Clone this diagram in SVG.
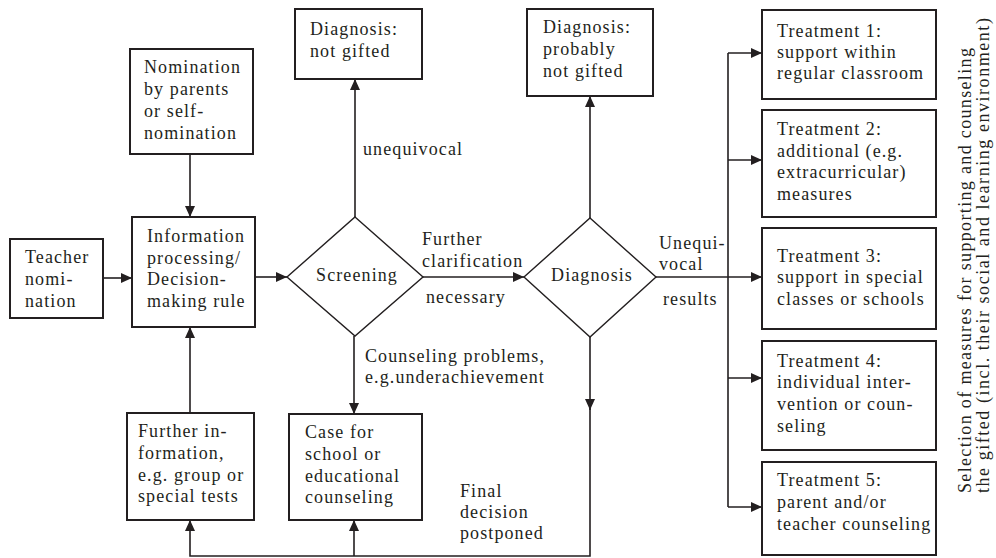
<svg xmlns="http://www.w3.org/2000/svg" width="996" height="558" viewBox="0 0 996 558">
<style>
text{font-family:"Liberation Serif","Times New Roman",serif;font-size:18px;fill:#231f20;letter-spacing:1.1px}
.box{fill:#fff;stroke:#231f20;stroke-width:2}
.dia{fill:#fff;stroke:#231f20;stroke-width:1.4}
.ln{fill:none;stroke:#231f20;stroke-width:1.6}
.mid{text-anchor:middle}
</style>
<defs>
<marker id="ah" markerUnits="userSpaceOnUse" markerWidth="12" markerHeight="10" refX="11" refY="5" orient="auto">
<path d="M0,0 L11,5 L0,10 z" fill="#231f20"/>
</marker>
</defs>
<rect width="996" height="558" fill="#fff"/>
<g id="connectors">
<path class="ln" d="M102,278 H132" marker-end="url(#ah)"/>
<path class="ln" d="M190,154 V217" marker-end="url(#ah)"/>
<path class="ln" d="M190,413 V327" marker-end="url(#ah)"/>
<path class="ln" d="M255,277 H287" marker-end="url(#ah)"/>
<path class="ln" d="M355,217 V79" marker-end="url(#ah)"/>
<path class="ln" d="M423,277 H524" marker-end="url(#ah)"/>
<path class="ln" d="M354,336 V414" marker-end="url(#ah)"/>
<path class="ln" d="M590,218 V96" marker-end="url(#ah)"/>
<path class="ln" d="M656,277 H762" marker-end="url(#ah)"/>
<path class="ln" d="M728,53 V507"/>
<path class="ln" d="M728,53 H762" marker-end="url(#ah)"/>
<path class="ln" d="M728,160 H762" marker-end="url(#ah)"/>
<path class="ln" d="M728,378 H762" marker-end="url(#ah)"/>
<path class="ln" d="M728,507 H762" marker-end="url(#ah)"/>
<path class="ln" d="M590,337 V410" marker-end="url(#ah)"/>
<path class="ln" d="M590,408 V556 H190 V520" marker-end="url(#ah)"/>
<path class="ln" d="M354,556 V520" marker-end="url(#ah)"/>
</g>
<g id="teacher">
<rect class="box" x="10" y="239" width="93" height="79"/>
<text x="25" y="263">Teacher</text>
<text x="25" y="285">nomi-</text>
<text x="25" y="307">nation</text>
</g>
<g id="nomination">
<rect class="box" x="130" y="49" width="123" height="105"/>
<text x="144" y="73">Nomination</text>
<text x="144" y="95">by parents</text>
<text x="144" y="117">or self-</text>
<text x="144" y="139">nomination</text>
</g>
<g id="info">
<rect class="box" x="132" y="217" width="123" height="110"/>
<text x="147" y="242">Information</text>
<text x="147" y="264">processing/</text>
<text x="147" y="285">Decision-</text>
<text x="147" y="307">making rule</text>
</g>
<g id="screening">
<polygon class="dia" points="355,217 423,277 355,336 287,277"/>
<text class="mid" x="357" y="281">Screening</text>
</g>
<g id="not-gifted">
<rect class="box" x="295" y="9" width="127" height="70"/>
<text x="310" y="35">Diagnosis:</text>
<text x="310" y="57">not gifted</text>
</g>
<g id="diagnosis">
<polygon class="dia" points="590,218 656,277 590,337 524,277"/>
<text class="mid" x="592" y="281">Diagnosis</text>
</g>
<g id="probably-not-gifted">
<rect class="box" x="527" y="9" width="126" height="87"/>
<text x="543" y="33">Diagnosis:</text>
<text x="543" y="55">probably</text>
<text x="543" y="77">not gifted</text>
</g>
<g id="further-info">
<rect class="box" x="127" y="413" width="127" height="107"/>
<text x="138" y="437">Further in-</text>
<text x="138" y="459">formation,</text>
<text x="138" y="481">e.g. group or</text>
<text x="138" y="502">special tests</text>
</g>
<g id="case">
<rect class="box" x="289" y="414" width="133" height="106"/>
<text x="305" y="438">Case for</text>
<text x="305" y="460">school or</text>
<text x="305" y="482">educational</text>
<text x="305" y="503">counseling</text>
</g>
<g id="treatment1">
<rect class="box" x="762" y="10" width="174" height="89"/>
<text x="777" y="37">Treatment 1:</text>
<text x="777" y="58">support within</text>
<text x="777" y="79">regular classroom</text>
</g>
<g id="treatment2">
<rect class="box" x="762" y="110" width="174" height="107"/>
<text x="777" y="135">Treatment 2:</text>
<text x="777" y="157">additional (e.g.</text>
<text x="777" y="178">extracurricular)</text>
<text x="777" y="200">measures</text>
</g>
<g id="treatment3">
<rect class="box" x="762" y="228" width="174" height="101"/>
<text x="777" y="262">Treatment 3:</text>
<text x="777" y="283">support in special</text>
<text x="777" y="305">classes or schools</text>
</g>
<g id="treatment4">
<rect class="box" x="762" y="341" width="174" height="109"/>
<text x="777" y="367">Treatment 4:</text>
<text x="777" y="388">individual inter-</text>
<text x="777" y="410">vention or coun-</text>
<text x="777" y="432">seling</text>
</g>
<g id="treatment5">
<rect class="box" x="762" y="462" width="174" height="93"/>
<text x="777" y="486">Treatment 5:</text>
<text x="777" y="508">parent and/or</text>
<text x="777" y="530">teacher counseling</text>
</g>
<g id="labels">
<text x="363" y="155">unequivocal</text>
<text x="422" y="245">Further</text>
<text x="422" y="267">clarification</text>
<text x="426" y="303">necessary</text>
<text x="659" y="249">Unequi-</text>
<text x="659" y="270">vocal</text>
<text x="663" y="305">results</text>
<text x="365" y="362">Counseling problems,</text>
<text x="365" y="383">e.g.underachievement</text>
<text x="460" y="497">Final</text>
<text x="460" y="518">decision</text>
<text x="460" y="539">postponed</text>
<text transform="translate(971,493) rotate(-90)" textLength="446" lengthAdjust="spacing">Selection of measures for supporting and counseling</text>
<text transform="translate(989,493) rotate(-90)" textLength="476" lengthAdjust="spacing">the gifted (incl. their social and learning environment)</text>
</g>
</svg>
